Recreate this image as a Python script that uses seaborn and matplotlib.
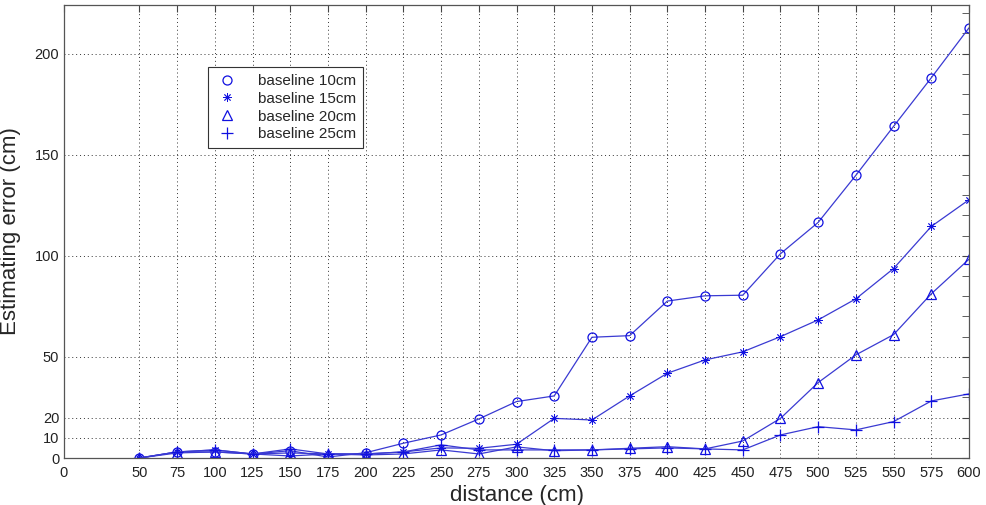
import matplotlib
matplotlib.use("Agg")
import matplotlib.pyplot as plt
from matplotlib.lines import Line2D
from matplotlib.ticker import FixedLocator
import seaborn as sns
import pandas as pd

distance = [50, 75, 100, 125, 150, 175, 200, 225, 250, 275, 300, 325,
            350, 375, 400, 425, 450, 475, 500, 525, 550, 575, 600]
b10 = [0, 3, 3, 2, 3.6, 0.5, 2.6, 7.3, 11.4, 19.3, 27.9, 30.7,
       59.7, 60.5, 77.6, 80.2, 80.5, 101, 116.5, 139.8, 164, 188, 212.7]
b15 = [0, 3, 4, 2, 1, 2, 2, 3, 5, 4.8, 6.8, 19.6,
       18.8, 30.7, 41.9, 48.5, 52.5, 60, 68.3, 78.7, 93.7, 114.5, 127.7]
b20 = [0, 2.5, 3, 2, 2.5, 2, 1.5, 2, 4, 2, 5.5, 3.6,
       4, 4.8, 5.6, 4.5, 8.4, 19.6, 37.3, 51, 61, 81.2, 98.3]
b25 = [0, 3, 4, 2, 4.5, 2, 2, 3, 6.5, 4, 4, 4,
       4, 4.5, 5, 4.5, 4, 11.4, 15.5, 13.9, 18, 28.2, 31.7]
series_names = ["baseline 10cm", "baseline 15cm", "baseline 20cm", "baseline 25cm"]
x_ticks = [0] + distance
y_ticks = [0, 10, 20, 50, 100, 150, 200]

sns.set_style("white")
plt.rcParams['font.family'] = ['Liberation Sans', 'DejaVu Sans']

fig = plt.figure(figsize=(9.87, 5.05), dpi=100)
ax = fig.add_axes([64/987, 47/505, 905/987, 453/505])

line_c = "#3a3ad2"
mark_c = "#1010e0"
markers = ["o", (8, 2, 0), "^", "+"]
msizes = [6.5, 6, 7, 8]
mews = [0.9, 0.6, 0.9, 0.9]
for name, vals, m, ms, mew in zip(series_names, [b10, b15, b20, b25], markers, msizes, mews):
    df = pd.DataFrame({"distance": distance, "error": vals})
    sns.lineplot(data=df, x="distance", y="error", ax=ax, color=line_c,
                 linewidth=0.9, marker=m, markersize=ms,
                 markerfacecolor="none", markeredgecolor=mark_c,
                 markeredgewidth=mew, legend=False)

ax.set_xlim(0, 600)
ax.set_ylim(0, 224)
ax.set_xticks(x_ticks)
ax.set_xticklabels([str(v) for v in x_ticks])
ax.set_yticks(y_ticks)
ax.set_yticklabels([str(v) for v in y_ticks])
ax.yaxis.set_minor_locator(FixedLocator([v for v in range(0, 230, 10) if v not in y_ticks]))
ax.tick_params(axis="both", which="both", direction="in", top=True, right=True,
               labelsize=10.5, labelcolor="#222222", color="#444444")
ax.tick_params(which="major", length=5)
ax.tick_params(which="minor", length=5)
ax.tick_params(axis="x", pad=6)
ax.grid(True, which="major", linestyle=(0, (1, 3)), color="#333333", linewidth=0.7)
for s in ax.spines.values():
    s.set_visible(True)
    s.set_color("#555555")
    s.set_linewidth(0.9)

ax.set_xlabel("distance (cm)", fontsize=16, labelpad=3)
ax.set_ylabel("Estimating error (cm)", fontsize=16, labelpad=10)

handles = [Line2D([], [], linestyle="none", marker=m, markersize=ms,
                  markerfacecolor="none", markeredgecolor=mark_c, markeredgewidth=mew)
           for m, ms, mew in zip(markers, msizes, mews)]
leg = ax.legend(handles, series_names, loc="upper left",
                bbox_to_anchor=((208-64)/905, (458-67)/453), fontsize=11,
                frameon=True, fancybox=False, framealpha=1, edgecolor="#333333",
                handlelength=1.6, handletextpad=1.2, borderpad=0.45, labelspacing=0.25,
                borderaxespad=0)
leg.get_frame().set_linewidth(0.8)

fig.savefig("out.png", dpi=100)
